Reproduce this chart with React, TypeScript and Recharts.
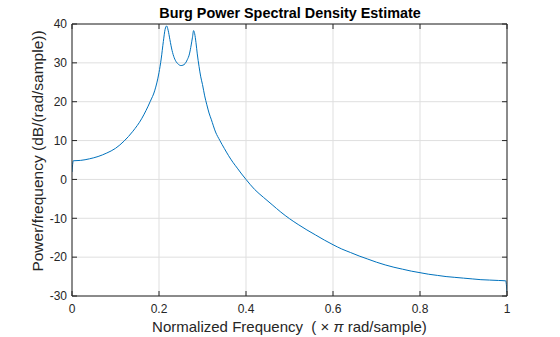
import { LineChart, Line, XAxis, YAxis, CartesianGrid, Label } from "recharts"

// normalized frequency (x pi rad/sample)
const freq = [
  0, 0.003, 0.02, 0.04, 0.06, 0.08, 0.1, 0.12, 0.14, 0.16, 0.17, 0.18, 0.19,
  0.2, 0.205, 0.21, 0.214, 0.2175, 0.221, 0.225, 0.23, 0.235, 0.24, 0.245,
  0.25, 0.255, 0.26, 0.265, 0.27, 0.274, 0.277, 0.2795, 0.282, 0.285, 0.288,
  0.292, 0.296, 0.3, 0.305, 0.31, 0.315, 0.32, 0.33, 0.34, 0.35, 0.36, 0.37,
  0.38, 0.39, 0.4, 0.42, 0.44, 0.46, 0.48, 0.5, 0.52, 0.54, 0.56, 0.58, 0.6,
  0.62, 0.64, 0.66, 0.68, 0.7, 0.72, 0.74, 0.76, 0.78, 0.8, 0.82, 0.84, 0.86,
  0.88, 0.9, 0.92, 0.94, 0.96, 0.98, 0.997, 1,
]

// power/frequency (dB/(rad/sample))
const power = [
  1.9, 4.8, 4.9, 5.3, 5.9, 6.8, 8.0, 9.9, 12.4, 15.6, 17.7, 20.1, 22.8,
  27.5, 31.0, 35.5, 38.6, 39.5, 38.4, 36.0, 33.2, 31.3, 30.2, 29.6,
  29.3, 29.4, 29.8, 30.8, 32.3, 34.6, 36.6, 38.3, 37.5, 35.2, 32.3,
  29.1, 26.4, 24.4, 21.5, 19.2, 17.1, 15.5, 12.2, 10.0, 8.0, 6.1, 4.4,
  2.9, 1.4, 0.0, -2.6, -4.6, -6.5, -8.4, -10.1, -11.6, -13.0, -14.3, -15.6, -16.8,
  -17.9, -18.8, -19.7, -20.5, -21.3, -22.0, -22.6, -23.1, -23.6, -24.0, -24.4, -24.7, -25.0,
  -25.2, -25.4, -25.6, -25.8, -25.9, -26.0, -26.1, -29.0,
]

const xTicks = [0, 0.2, 0.4, 0.6, 0.8, 1]
const yTicks = [-30, -20, -10, 0, 10, 20, 30, 40]

const chartData = freq.map((f, i) => ({ f, p: power[i] }))

const font = "'Liberation Sans', Arial, Helvetica, sans-serif"
const axisColor = "#262626"
const tickStyle = { fill: axisColor, fontSize: 12, fontFamily: font }

const renderXTitle = (props: any) => {
  const { x, y, width, height } = props.viewBox
  return (
    <text
      x={x + width / 2}
      y={y + height - 5}
      textAnchor="middle"
      fontSize={15}
      fontFamily={font}
      fill={axisColor}
      style={{ whiteSpace: "pre" }}
    >
      {"Normalized Frequency  ( × "}
      <tspan fontStyle="italic">π</tspan>
      {" rad/sample)"}
    </text>
  )
}

const renderYTitle = (props: any) => {
  const { x, y, height } = props.viewBox
  const cx = x + 43
  const cy = y + height / 2 - 9
  return (
    <text
      x={cx}
      y={cy}
      transform={`rotate(-90, ${cx}, ${cy})`}
      textAnchor="middle"
      fontSize={15.5}
      fontFamily={font}
      fill={axisColor}
    >
      Power/frequency (dB/(rad/sample))
    </text>
  )
}

const noTick = () => <g />

export default function App() {
  return (
    <div style={{ position: "absolute", left: 0, top: 0, width: 560, height: 337, background: "#fff" }}>
      <div
        style={{
          position: "absolute",
          left: 73,
          width: 434,
          top: 5,
          textAlign: "center",
          fontFamily: font,
          fontWeight: "bold",
          fontSize: 14.4,
          color: "#000",
        }}
      >
        Burg Power Spectral Density Estimate
      </div>
      <LineChart width={560} height={337} data={chartData} margin={{ top: 24, right: 53, bottom: 0, left: 0 }}>
        <CartesianGrid xAxisId="x" yAxisId="y" stroke="#dfdfdf" verticalValues={xTicks} horizontalValues={yTicks} />
        {/* inward tick marks and box */}
        <XAxis xAxisId="xb" orientation="bottom" type="number" dataKey="f" domain={[0, 1]} ticks={xTicks}
          mirror height={1} tick={noTick} tickSize={5} stroke={axisColor} allowDataOverflow />
        <XAxis xAxisId="x" orientation="bottom" type="number" dataKey="f" domain={[0, 1]} ticks={xTicks}
          height={41} axisLine={false} tickLine={false} tickSize={0} tickMargin={8} tick={tickStyle} allowDataOverflow>
          <Label content={renderXTitle} />
        </XAxis>
        <XAxis xAxisId="xt" orientation="top" type="number" dataKey="f" domain={[0, 1]} ticks={xTicks}
          mirror height={1} tick={noTick} tickSize={5} stroke={axisColor} allowDataOverflow />
        <YAxis yAxisId="yl" orientation="left" type="number" domain={[-30, 40]} ticks={yTicks}
          mirror width={1} tick={noTick} tickSize={5} stroke={axisColor} allowDataOverflow />
        <YAxis yAxisId="y" orientation="left" type="number" domain={[-30, 40]} ticks={yTicks}
          width={72} axisLine={false} tickLine={false} tickSize={0} tickMargin={5} tick={tickStyle} allowDataOverflow>
          <Label content={renderYTitle} />
        </YAxis>
        <YAxis yAxisId="yr" orientation="right" type="number" domain={[-30, 40]} ticks={yTicks}
          mirror width={1} tick={noTick} tickSize={5} stroke={axisColor} allowDataOverflow />
        <Line
          xAxisId="x"
          yAxisId="y"
          type="monotone"
          dataKey="p"
          stroke="#0072BD"
          strokeWidth={1}
          dot={false}
          isAnimationActive={false}
        />
      </LineChart>
    </div>
  )
}
